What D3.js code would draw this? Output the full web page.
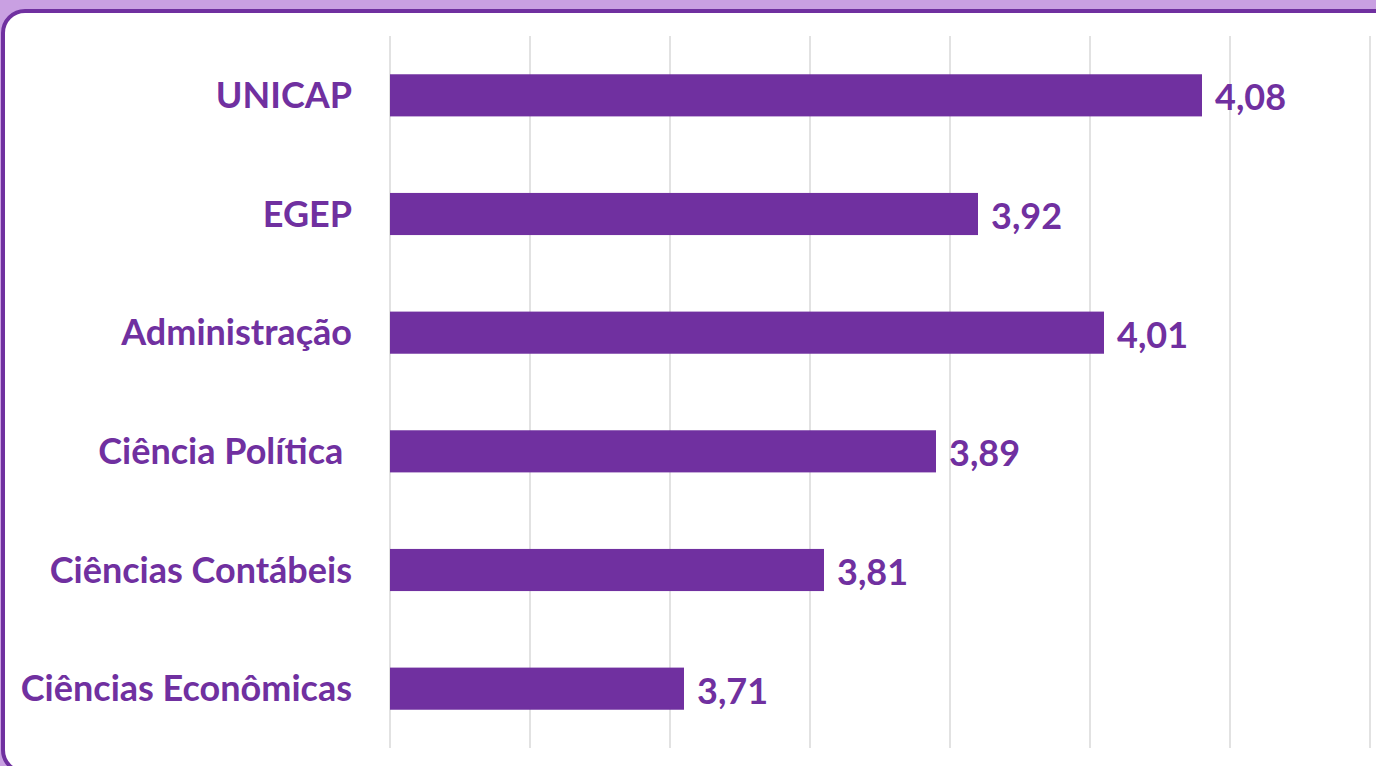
<!DOCTYPE html>
<html>
<head>
<meta charset="utf-8">
<script src="https://cdn.jsdelivr.net/npm/d3@7"></script>
<style>
  body { margin: 0; background: #c9a0e2; }
  svg { display: block; }
  .label { font-family: Lato, "Open Sans", sans-serif; font-weight: 700; fill: #7030a0; }
</style>
</head>
<body>
<script>
var categories = ["UNICAP", "EGEP", "Administração", "Ciência Política ", "Ciências Contábeis", "Ciências Econômicas"];
var values = [4.08, 3.92, 4.01, 3.89, 3.81, 3.71];
var gridTicks = [3.5, 3.6, 3.7, 3.8, 3.9, 4.0, 4.1, 4.2];

function init() {
    var w = 1376;
    var h = 766;
    var purple = "#7030a0";

    var svg = d3.select("body")
        .append("svg")
        .attr("width", w)
        .attr("height", h);

    // background and frame
    svg.append("rect")
        .attr("width", w)
        .attr("height", h)
        .attr("fill", "#c9a0e2");

    svg.append("rect")
        .attr("x", 3)
        .attr("y", 11)
        .attr("width", 1420)
        .attr("height", 761)
        .attr("rx", 22)
        .attr("fill", "#ffffff")
        .attr("stroke", purple)
        .attr("stroke-width", 4);

    var xScale = d3.scaleLinear()
        .domain([3.5, 4.2])
        .range([390, 1370]);

    var yScale = d3.scaleBand()
        .domain(categories)
        .range([36, 748])
        .paddingInner(0.645)
        .paddingOuter(0.3225);

    // gridlines
    svg.append("g")
        .selectAll("line")
        .data(gridTicks)
        .enter()
        .append("line")
        .attr("x1", function(d) { return xScale(d); })
        .attr("x2", function(d) { return xScale(d); })
        .attr("y1", 36)
        .attr("y2", 748)
        .attr("stroke", "#d9d9d9")
        .attr("stroke-width", 1.5);

    // bars
    svg.append("g")
        .selectAll("rect")
        .data(values)
        .enter()
        .append("rect")
        .attr("x", xScale(3.5))
        .attr("y", function(d, i) { return yScale(categories[i]); })
        .attr("width", function(d) { return xScale(d) - xScale(3.5); })
        .attr("height", yScale.bandwidth())
        .attr("fill", purple);

    // category labels
    svg.append("g")
        .selectAll("text")
        .data(categories)
        .enter()
        .append("text")
        .attr("class", "label")
        .attr("x", 352)
        .attr("y", function(d) { return yScale(d) + yScale.bandwidth() / 2; })
        .attr("dy", "0.35em")
        .attr("text-anchor", "end")
        .attr("font-size", 36)
        .style("white-space", "pre")
        .text(function(d) { return d; });

    // value labels
    svg.append("g")
        .selectAll("text")
        .data(values)
        .enter()
        .append("text")
        .attr("class", "label")
        .attr("x", function(d) { return xScale(d) + 13; })
        .attr("y", function(d, i) { return yScale(categories[i]) + yScale.bandwidth() / 2; })
        .attr("dy", "0.42em")
        .attr("font-size", 36)
        .text(function(d) { return d.toFixed(2).replace(".", ","); });
}

window.onload = init;
</script>
</body>
</html>
